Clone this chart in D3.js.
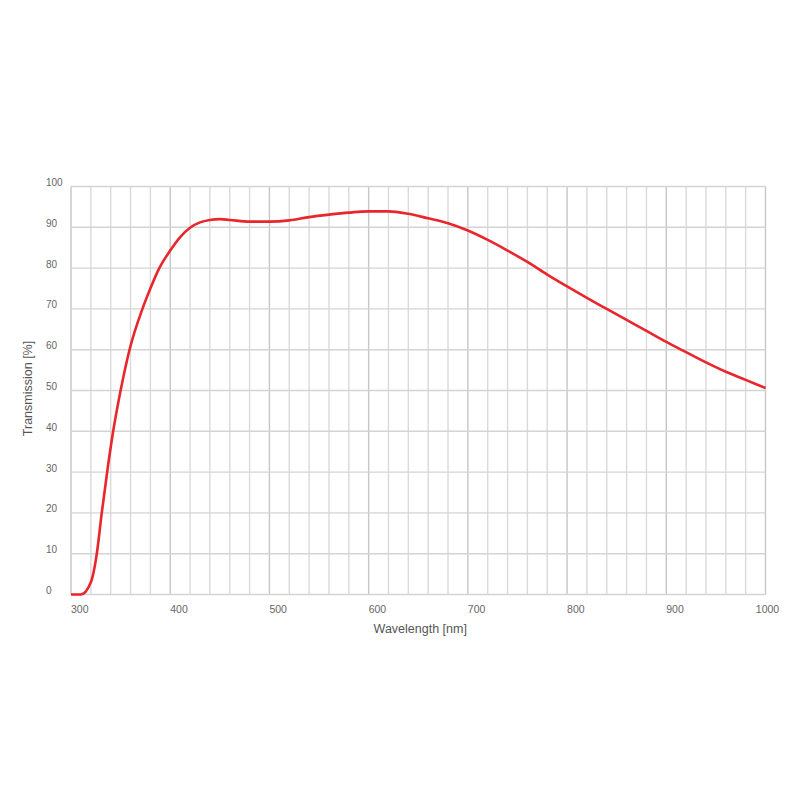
<!DOCTYPE html>
<html>
<head>
<meta charset="utf-8">
<script src="https://cdn.jsdelivr.net/npm/d3@7"></script>
<style>
  html, body { margin: 0; padding: 0; background: #fff; }
  svg { display: block; }
  text { font-family: "Liberation Sans", Arial, Helvetica, sans-serif; }
</style>
</head>
<body>
<svg id="chart" width="800" height="800"></svg>
<script>
// ---- data ----
const wavelengths = [300, 310, 320, 326, 331, 337, 342.5, 350, 359, 372, 380, 389, 400, 410, 420, 430, 440, 450, 460, 480, 500, 520, 540, 560, 580, 600, 620, 640, 660, 680, 700, 720, 740, 760, 780, 800, 820, 840, 860, 880, 900, 920, 940, 960, 980, 1000];
const transmission = [0, 0, 3, 10, 20, 31, 40, 50, 60, 70, 75, 80, 84.3, 87.6, 89.9, 91.2, 91.8, 92.0, 91.8, 91.4, 91.4, 91.7, 92.5, 93.1, 93.6, 93.9, 93.9, 93.3, 92.2, 91.0, 89.2, 86.9, 84.3, 81.5, 78.4, 75.5, 72.7, 70.0, 67.3, 64.6, 61.9, 59.4, 56.9, 54.6, 52.6, 50.6];
const xTickLabels = [300, 400, 500, 600, 700, 800, 900, 1000];
const yTickLabels = [0, 10, 20, 30, 40, 50, 60, 70, 80, 90, 100];
const xMinorTicks = d3.range(300, 1001, 20);
const xTitle = "Wavelength [nm]";
const yTitle = "Transmission [%]";

// ---- layout ----
const pLeft = 71, pRight = 765.5, pTop = 186.5, pBottom = 594.5;
const svg = d3.select("#chart");
const x = d3.scaleLinear().domain([300, 1000]).range([pLeft, pRight]);
const y = d3.scaleLinear().domain([0, 100]).range([pBottom, pTop]);

// vertical grid lines
const g = svg.append("g");
g.selectAll("line.vx").data(xMinorTicks).enter().append("line")
  .attr("x1", d => x(d)).attr("x2", d => x(d))
  .attr("y1", pTop).attr("y2", pBottom)
  .attr("stroke", d => d % 100 === 0 ? "#c6c6c6" : "#dadada")
  .attr("stroke-width", 1.4);

// horizontal grid lines
g.selectAll("line.hy").data(yTickLabels).enter().append("line")
  .attr("x1", pLeft).attr("x2", pRight)
  .attr("y1", d => y(d)).attr("y2", d => y(d))
  .attr("stroke", "#d4d4d4")
  .attr("stroke-width", 1.4);

// y tick labels (left aligned)
svg.append("g").selectAll("text").data(yTickLabels).enter().append("text")
  .attr("x", 46).attr("y", d => y(d) - 0.5)
  .attr("font-size", 10).attr("fill", "#666")
  .text(d => d);

// x tick labels
svg.append("g").selectAll("text").data(xTickLabels).enter().append("text")
  .attr("x", d => d === 1000 ? x(d) + 2 : x(d))
  .attr("y", 612.5)
  .attr("text-anchor", d => d === 1000 ? "middle" : "start")
  .attr("font-size", 10.5).attr("fill", "#666")
  .text(d => d);

// axis titles
svg.append("text")
  .attr("x", (pLeft + pRight) / 2 + 2).attr("y", 633)
  .attr("text-anchor", "middle")
  .attr("font-size", 12.5).attr("fill", "#555")
  .text(xTitle);

svg.append("text")
  .attr("transform", `translate(32, ${(pTop + pBottom) / 2 - 2}) rotate(-90)`)
  .attr("text-anchor", "middle")
  .attr("font-size", 12.5).attr("fill", "#555")
  .text(yTitle);

// curve
const pts = wavelengths.map((w, i) => [w, transmission[i]]);
const line = d3.line()
  .x(d => x(d[0])).y(d => y(d[1]))
  .curve(d3.curveMonotoneX);
svg.append("path")
  .datum(pts)
  .attr("d", line)
  .attr("fill", "none")
  .attr("stroke", "#e8262b")
  .attr("stroke-width", 2.6)
  .attr("stroke-linejoin", "round");
</script>
</body>
</html>
